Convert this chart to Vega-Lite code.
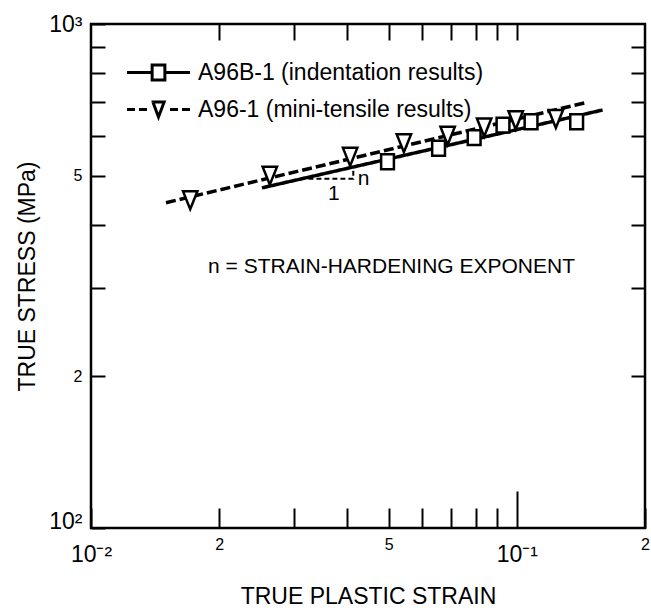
{
  "$schema": "https://vega.github.io/schema/vega-lite/v6.json",
  "width": 554,
  "height": 504,
  "autosize": {"type": "none"},
  "padding": {"left": 91, "top": 24, "right": 6, "bottom": 80},
  "background": "white",
  "config": {
    "view": {"stroke": "black", "strokeWidth": 2.5},
    "font": "Liberation Sans",
    "axis": {
      "domain": false,
      "grid": false,
      "tickColor": "black",
      "tickWidth": 2,
      "labelColor": "black",
      "titleColor": "black",
      "labelFont": "Liberation Sans",
      "titleFont": "Liberation Sans",
      "titleFontWeight": "normal",
      "labelOverlap": false,
      "labelFlush": false,
      "labelBound": false
    },
    "legend": {
      "orient": "none",
      "legendX": 56,
      "legendY": 37,
      "title": null,
      "labelFont": "Liberation Sans",
      "labelFontSize": 23,
      "labelColor": "black",
      "labelLimit": 400,
      "labelOffset": 28,
      "rowPadding": 10,
      "padding": 0
    }
  },
  "datasets": {
    "points": [
      {"series": "A96B-1 (indentation results)", "strain": 0.0497, "stress": 533},
      {"series": "A96B-1 (indentation results)", "strain": 0.0655, "stress": 567},
      {"series": "A96B-1 (indentation results)", "strain": 0.0794, "stress": 595},
      {"series": "A96B-1 (indentation results)", "strain": 0.0928, "stress": 630},
      {"series": "A96B-1 (indentation results)", "strain": 0.108, "stress": 640},
      {"series": "A96B-1 (indentation results)", "strain": 0.1382, "stress": 640},
      {"series": "A96-1 (mini-tensile results)", "strain": 0.0171, "stress": 447},
      {"series": "A96-1 (mini-tensile results)", "strain": 0.0263, "stress": 500},
      {"series": "A96-1 (mini-tensile results)", "strain": 0.0406, "stress": 545},
      {"series": "A96-1 (mini-tensile results)", "strain": 0.0543, "stress": 580},
      {"series": "A96-1 (mini-tensile results)", "strain": 0.0688, "stress": 600},
      {"series": "A96-1 (mini-tensile results)", "strain": 0.0838, "stress": 623},
      {"series": "A96-1 (mini-tensile results)", "strain": 0.0994, "stress": 644},
      {"series": "A96-1 (mini-tensile results)", "strain": 0.1235, "stress": 648}
    ],
    "fits": [
      {"series": "A96B-1 (indentation results)", "strain": 0.0252, "stress": 473},
      {"series": "A96B-1 (indentation results)", "strain": 0.159, "stress": 675},
      {"series": "A96-1 (mini-tensile results)", "strain": 0.015, "stress": 442},
      {"series": "A96-1 (mini-tensile results)", "strain": 0.145, "stress": 698}
    ],
    "slope": [
      {"step": 1, "strain": 0.0324, "stress": 493},
      {"step": 2, "strain": 0.0413, "stress": 493},
      {"step": 3, "strain": 0.0413, "stress": 519}
    ],
    "notes": [
      {"text": "n", "strain": 0.0423, "stress": 492},
      {"text": "1", "strain": 0.036, "stress": 460},
      {"text": "n = STRAIN-HARDENING EXPONENT", "strain": 0.01883, "stress": 330}
    ]
  },
  "layer": [
    {
      "data": {"name": "fits"},
      "mark": {"type": "line", "color": "black", "strokeWidth": 3.5},
      "encoding": {
        "x": {
          "field": "strain",
          "type": "quantitative",
          "scale": {"type": "log", "domain": [0.01, 0.2], "nice": false},
          "axis": {
            "orient": "bottom",
            "title": "TRUE  PLASTIC  STRAIN",
            "titleFontSize": 23,
            "titlePadding": 19,
            "values": [0.01, 0.02, 0.03, 0.04, 0.05, 0.06, 0.07, 0.08, 0.09, 0.1, 0.2],
            "labelExpr": "datum.value == 0.01 ? '10⁻²' : datum.value == 0.1 ? '10⁻¹' : (datum.value == 0.02 || datum.value == 0.2) ? '2' : datum.value == 0.05 ? '5' : ''",
            "labelBaseline": "top",
            "tickSize": {"condition": {"test": "datum.value == 0.1", "value": -37}, "value": -20},
            "labelPadding": {"condition": [{"test": "datum.value == 0.1", "value": 52}, {"test": "datum.value == 0.01", "value": 35}], "value": 28},
            "labelFontSize": {"condition": {"test": "datum.value == 0.01 || datum.value == 0.1", "value": 23}, "value": 16}
          }
        },
        "y": {
          "field": "stress",
          "type": "quantitative",
          "scale": {"type": "log", "domain": [100, 1000], "nice": false},
          "axis": {
            "orient": "left",
            "title": "TRUE  STRESS  (MPa)",
            "titleFontSize": 23,
            "titlePadding": 9,
            "values": [100, 200, 300, 400, 500, 600, 700, 800, 900, 1000],
            "labelExpr": "datum.value == 1000 ? '10³' : datum.value == 100 ? '10²' : datum.value == 500 ? '5' : datum.value == 200 ? '2' : ''",
            "tickSize": -14,
            "labelPadding": 23,
            "labelFontSize": {"condition": {"test": "datum.value == 1000 || datum.value == 100", "value": 23}, "value": 16},
            "labelBaseline": {"condition": {"test": "datum.value == 100", "value": "alphabetic"}, "value": "middle"}
          }
        },
        "strokeDash": {
          "field": "series",
          "type": "nominal",
          "scale": {"domain": ["A96B-1 (indentation results)", "A96-1 (mini-tensile results)"], "range": [[1, 0], [10, 4]]},
          "legend": null
        }
      }
    },
    {
      "data": {"name": "fits"},
      "transform": [
        {"aggregate": [{"op": "min", "field": "strain", "as": "strain"}, {"op": "min", "field": "stress", "as": "stress"}], "groupby": ["series"]}
      ],
      "mark": {"type": "line", "color": "black", "strokeWidth": 3},
      "encoding": {
        "x": {"field": "strain", "type": "quantitative", "axis": null},
        "y": {"field": "stress", "type": "quantitative", "axis": null},
        "strokeDash": {
          "field": "series",
          "type": "nominal",
          "scale": {
            "domain": ["A96B-1 (indentation results)", "A96-1 (mini-tensile results)"],
            "range": [[80.625, 64.978, 25.125, 1000], [8, 4, 8, 68.162, 43.29, 19.276, 8, 4, 8, 1000]]
          },
          "legend": {
            "symbolType": "M-4.2,0H-0.85V-1H0.85V1H-0.85V0L-0.75,-1H0.75L0,1L-0.75,-1L0.85,0H4.2",
            "symbolSize": 225,
            "symbolStrokeWidth": 3,
            "symbolStrokeColor": "black",
            "symbolFillColor": "transparent"
          }
        }
      }
    },
    {
      "data": {"name": "slope"},
      "mark": {"type": "line", "color": "black", "strokeWidth": 2, "strokeDash": [5, 3]},
      "encoding": {
        "x": {"field": "strain", "type": "quantitative", "axis": null},
        "y": {"field": "stress", "type": "quantitative", "axis": null},
        "order": {"field": "step", "type": "quantitative"}
      }
    },
    {
      "data": {"name": "points"},
      "mark": {"type": "point", "color": "black", "fill": "white", "stroke": "black", "strokeWidth": 2.5, "opacity": 1, "size": 324},
      "encoding": {
        "x": {
          "field": "strain",
          "type": "quantitative",
          "axis": {"orient": "top", "title": null, "labels": false, "tickSize": -16, "values": [0.02, 0.03, 0.04, 0.05, 0.06, 0.07, 0.08, 0.09, 0.1]}
        },
        "y": {
          "field": "stress",
          "type": "quantitative",
          "axis": {"orient": "right", "title": null, "labels": false, "tickSize": -14, "values": [200, 300, 400, 500, 600, 700, 800, 900]}
        },
        "shape": {
          "field": "series",
          "type": "nominal",
          "scale": {
            "domain": ["A96B-1 (indentation results)", "A96-1 (mini-tensile results)"],
            "range": ["M-0.71,-0.83H0.71V0.83H-0.71Z", "M-0.8,-1H0.8L0,1Z"]
          },
          "legend": null
        }
      }
    },
    {
      "data": {"name": "notes"},
      "mark": {"type": "text", "align": "left", "baseline": "middle", "fontSize": 21, "color": "black", "font": "Liberation Sans"},
      "encoding": {
        "x": {"field": "strain", "type": "quantitative", "axis": null},
        "y": {"field": "stress", "type": "quantitative", "axis": null},
        "text": {"field": "text"}
      }
    }
  ],
  "resolve": {
    "scale": {"strokeDash": "independent"},
    "axis": {"x": "independent", "y": "independent"}
  }
}
